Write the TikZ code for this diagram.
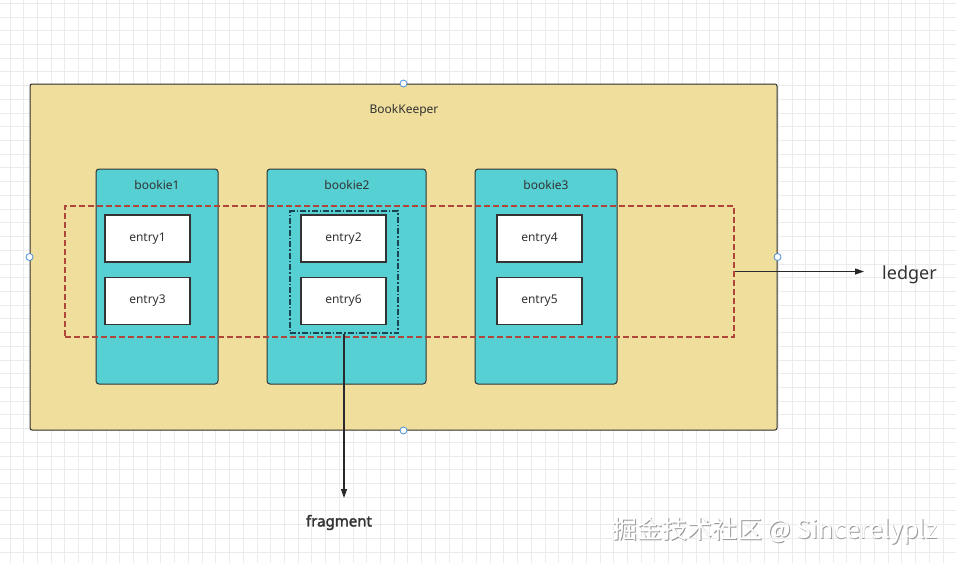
\documentclass[tikz,border=0pt]{standalone}
\usepackage{fontspec}
\setmainfont{Noto Sans}
\newfontfamily\cjk{Noto Sans CJK SC}
\newfontfamily\fragfont{Noto Sans}[FakeBold=2.2]
\usetikzlibrary{arrows.meta}
\definecolor{bkfill}{HTML}{F0DF9C}
\definecolor{teal}{HTML}{56D0D3}
\definecolor{ledgerred}{HTML}{B0453A}
\definecolor{fragcol}{HTML}{1A4450}
\definecolor{txt}{HTML}{333333}
\definecolor{handle}{HTML}{4A90D9}
\definecolor{gridc}{HTML}{EBEBEB}
\tikzset{
  outerbox/.style={draw=txt!90!black, line width=1pt, fill=bkfill, rounded corners=2pt, minimum width=747pt, minimum height=346pt, inner sep=0pt},
  bookiebox/.style={draw=txt, line width=1pt, fill=teal, rounded corners=3pt, minimum height=215pt, inner sep=0pt},
  entrybox/.style={draw=txt, line width=1.1pt, fill=white, minimum width=85pt, minimum height=47pt, inner sep=0pt, font=\fontsize{12}{14}\selectfont, text=txt},
  lbl/.style={font=\fontsize{12}{14}\selectfont, text=txt, inner sep=0pt},
  ledgerbox/.style={draw=ledgerred, line width=1.2pt, dash pattern=on 6pt off 3pt, minimum width=669pt, minimum height=131pt, inner sep=0pt},
  fragbox/.style={draw=fragcol, line width=1.4pt, dash pattern=on 6pt off 2pt on 1.5pt off 2pt, minimum width=108pt, minimum height=122pt, inner sep=0pt},
  handlept/.style={circle, draw=handle, fill=white, line width=0.8pt, minimum size=7pt, inner sep=0pt},
  conn/.style={draw=txt!80!black, line width=1.2pt, -{Triangle[length=9pt,width=6pt]}},
}
\begin{document}
\begin{tikzpicture}[x=1pt,y=-1pt]
\useasboundingbox (0,0) rectangle (956,563);
\fill[white] (0,0) rectangle (956,563);
% grid
\foreach \i in {0,...,69} {\draw[gridc, line width=0.9pt] ({10+13.72*\i},0) -- ({10+13.72*\i},563);}
\foreach \j in {0,...,41} {\draw[gridc, line width=0.9pt] (0,{3.3+13.72*\j}) -- (956,{3.3+13.72*\j});}
% outer
\node[outerbox] (bk) at (403.5,257) {};
\node[lbl] (bklbl) at (404,110) {BookKeeper};
% bookies
\node[bookiebox, minimum width=122pt] (b1) at (157,276.5) {};
\node[bookiebox, minimum width=159pt] (b2) at (346.5,276.5) {};
\node[bookiebox, minimum width=142pt] (b3) at (546,276.5) {};
\node[lbl] (b1lbl) at (157,185) {bookie1};
\node[lbl] (b2lbl) at (347,185) {bookie2};
\node[lbl] (b3lbl) at (546,185) {bookie3};
% entries
\node[entrybox] (e1) at (147.5,238.5) {\raisebox{-1.5pt}{entry1}};
\node[entrybox] (e3) at (147.5,301) {\raisebox{-1.5pt}{entry3}};
\node[entrybox] (e2) at (343.5,238.5) {\raisebox{-1.5pt}{entry2}};
\node[entrybox] (e6) at (343.5,301) {\raisebox{-1.5pt}{entry6}};
\node[entrybox] (e4) at (539.5,238.5) {\raisebox{-1.5pt}{entry4}};
\node[entrybox] (e5) at (539.5,301) {\raisebox{-1.5pt}{entry5}};
% ledger and fragment boxes
\node[ledgerbox] (ledger) at (399.5,271.5) {};
\node[fragbox] (frag) at (344,272) {};
% handles
\node[handlept] (h1) at (bk.north) {};
\node[handlept] (h2) at (bk.west) {};
\node[handlept] (h3) at (bk.east) {};
\node[handlept] (h4) at (bk.south) {};
% labels and connectors
\node[font=\fontsize{18}{21}\selectfont, text=txt, anchor=west, inner sep=0pt] (ledgerlbl) at (882,274.5) {ledger};
\coordinate (ledgerend) at (864,271.5);
\draw[conn] (ledger.east) -- (ledgerend);
\node[font=\fragfont\fontsize{15}{18}\selectfont, text=txt, inner sep=0pt] (fraglbl) at (339,522.5) {fragment};
\coordinate (fragend) at (344,498);
\draw[conn] (frag.south) -- (fragend);
% watermark
\node[font=\cjk\fontsize{25}{29}\selectfont, text=gray!80, inner sep=0pt] (wms) at (775.9,531.9) {掘金技术社区 @ Sincerelyplz};
\node[font=\cjk\fontsize{25}{29}\selectfont, text=white, inner sep=0pt] (wm) at (775,531) {掘金技术社区 @ Sincerelyplz};
\end{tikzpicture}
\end{document}
